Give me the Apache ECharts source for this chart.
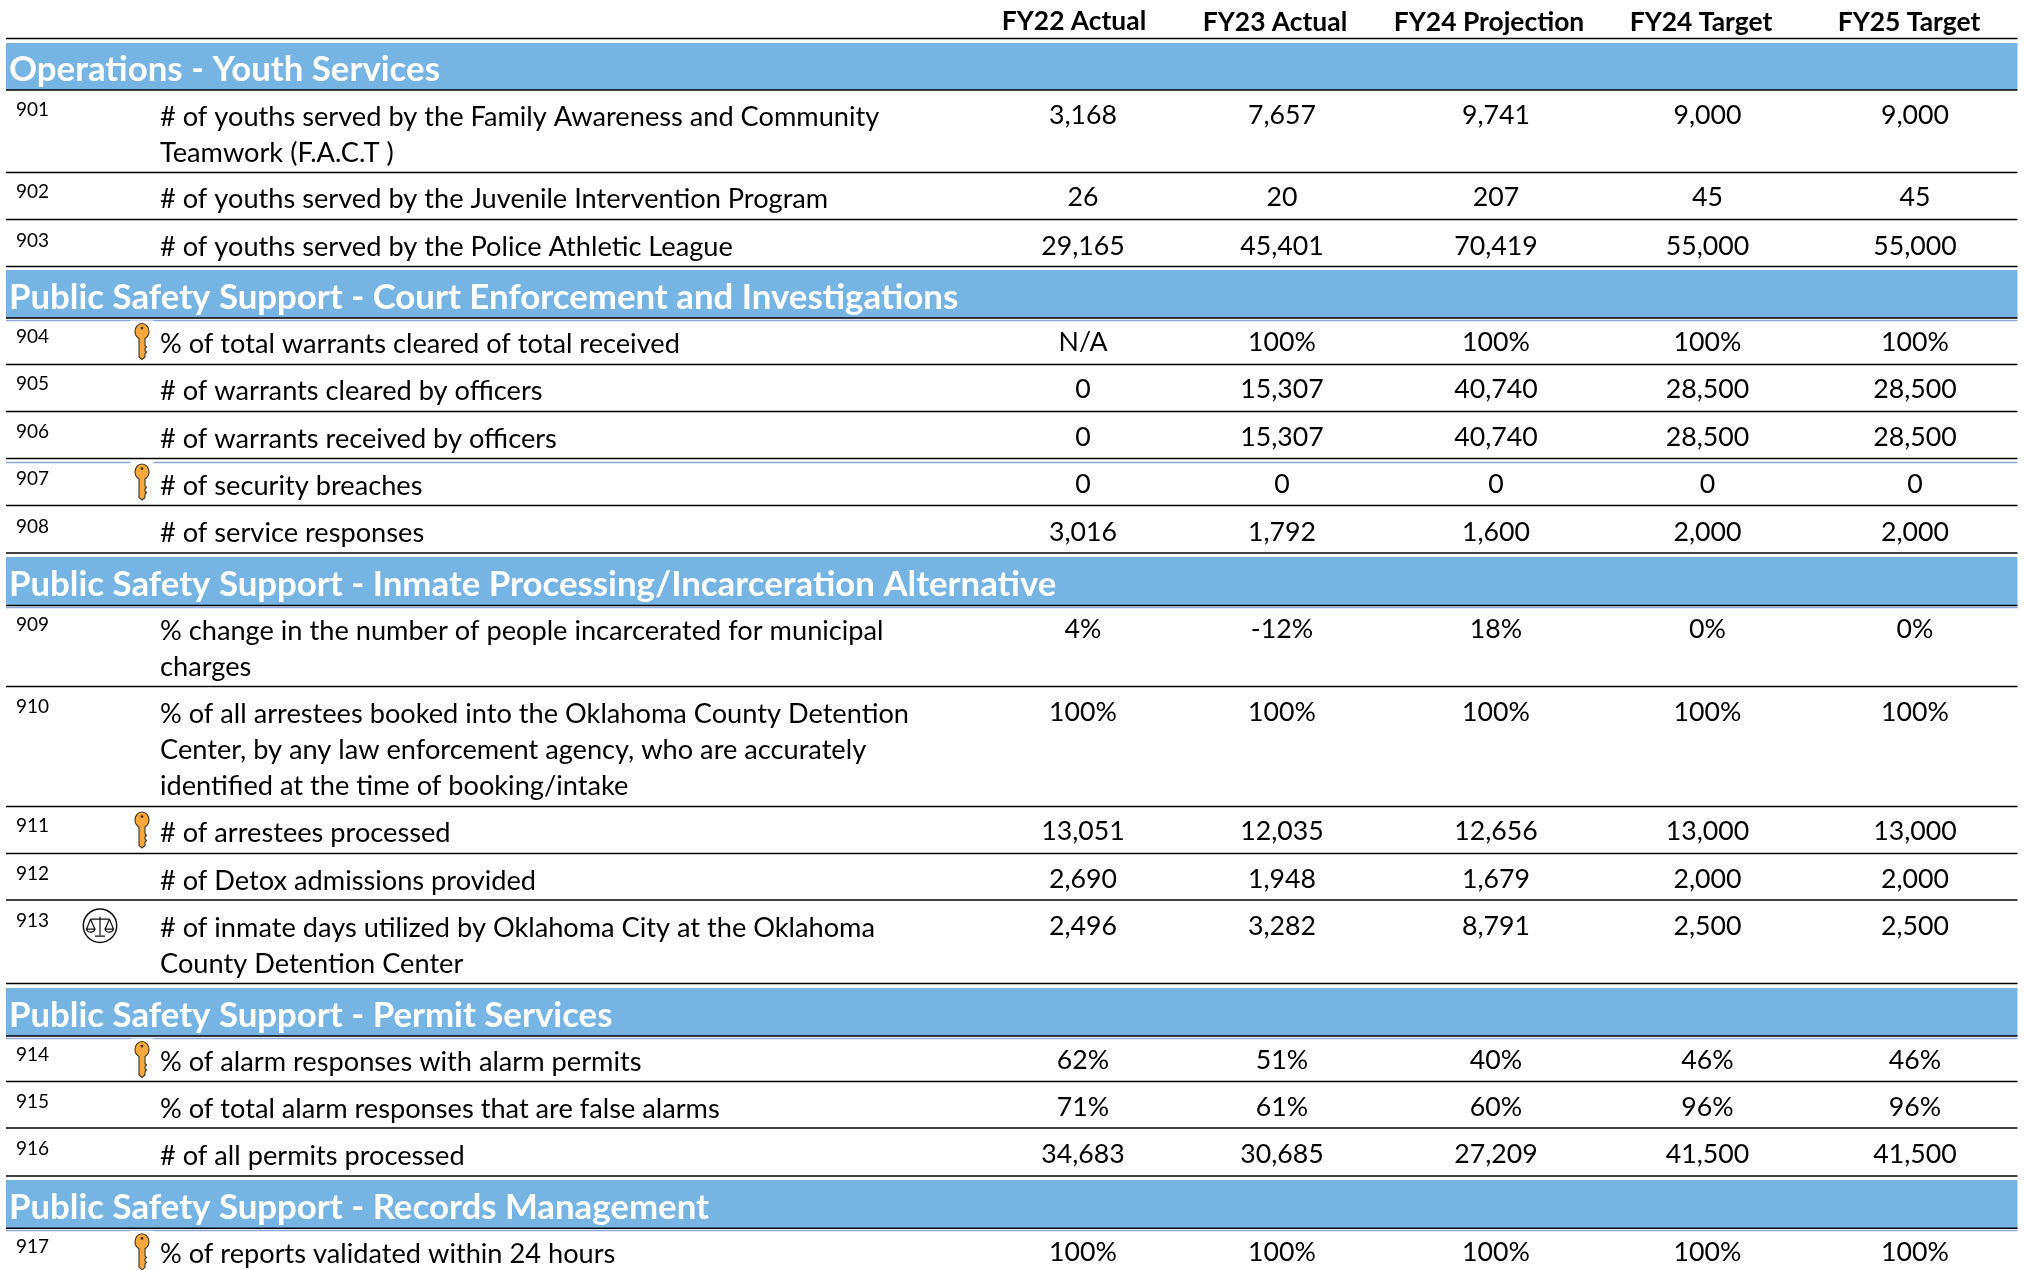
<!DOCTYPE html>
<html><head><meta charset="utf-8">
<style>html,body{margin:0;padding:0;background:#fff}#c{width:2024px;height:1270px}</style>
<script src="https://cdn.jsdelivr.net/npm/echarts@6/dist/echarts.min.js"></script>
</head><body><div id="c"></div>
<script>
// ---------- table content ----------
const columnHeaders = ['FY22 Actual','FY23 Actual','FY24 Projection','FY24 Target','FY25 Target'];
const sectionTitles = ['Operations - Youth Services','Public Safety Support - Court Enforcement and Investigations','Public Safety Support - Inmate Processing/Incarceration Alternative','Public Safety Support - Permit Services','Public Safety Support - Records Management'];
const rowIds = ['901','902','903','904','905','906','907','908','909','910','911','912','913','914','915','916','917'];
const rowLabels = [
 '# of youths served by the Family Awareness and Community\nTeamwork (F.A.C.T )',
 '# of youths served by the Juvenile Intervention Program',
 '# of youths served by the Police Athletic League',
 '% of total warrants cleared of total received',
 '# of warrants cleared by officers',
 '# of warrants received by officers',
 '# of security breaches',
 '# of service responses',
 '% change in the number of people incarcerated for municipal\ncharges',
 '% of all arrestees booked into the Oklahoma County Detention\nCenter, by any law enforcement agency, who are accurately\nidentified at the time of booking/intake',
 '# of arrestees processed',
 '# of Detox admissions provided',
 '# of inmate days utilized by Oklahoma City at the Oklahoma\nCounty Detention Center',
 '% of alarm responses with alarm permits',
 '% of total alarm responses that are false alarms',
 '# of all permits processed',
 '% of reports validated within 24 hours'];
const fy22Actual = ['3,168','26','29,165','N/A','0','0','0','3,016','4%','100%','13,051','2,690','2,496','62%','71%','34,683','100%'];
const fy23Actual = ['7,657','20','45,401','100%','15,307','15,307','0','1,792','-12%','100%','12,035','1,948','3,282','51%','61%','30,685','100%'];
const fy24Projection = ['9,741','207','70,419','100%','40,740','40,740','0','1,600','18%','100%','12,656','1,679','8,791','40%','60%','27,209','100%'];
const fy24Target = ['9,000','45','55,000','100%','28,500','28,500','0','2,000','0%','100%','13,000','2,000','2,500','46%','96%','41,500','100%'];
const fy25Target = ['9,000','45','55,000','100%','28,500','28,500','0','2,000','0%','100%','13,000','2,000','2,500','46%','96%','41,500','100%'];
const keyRows = ['904','907','911','914','917'];
const scaleRows = ['913'];

// ---------- layout, kept apart from the content ----------
const valueColumns = [fy22Actual,fy23Actual,fy24Projection,fy24Target,fy25Target];
const valueX = [1083,1282,1496,1707.5,1915];
const headerX = [1074,1275,1489,1701,1909];
const headerY = [21.5,22.5,22.5,22.5,22.5];
const bandEdges = [[43,90],[270,318],[557,605.5],[988,1036],[1180,1228.3]];
const ruleY = [38.5,90,172.5,219.5,266.5,318,364.5,411.5,458.5,505.5,553,605.5,686.5,806.5,853.5,900,983.5,1036,1081.5,1128,1176,1228.3];
const blueRuleY = [320.5,462.5,607.5,1038.5,1230.5];
const rowTop = [90,172.5,219.5,318,364.5,411.5,458.5,505.5,605.5,686.5,806.5,853.5,900,1036,1081.5,1128,1228.3];
const rowTextY = [116.8,199,247.5,343.8,391.3,439,485.8,533.5,631.4,714,833,881,928,1062,1109,1156,1254];
const LEFT = 6, RIGHT = 2017.5;
const FONT = 'Lato, Carlito, Calibri, sans-serif';
const BODY = 27.2, VALUE = 26.7, HEAD = 26.4, BAND = 34.8, IDF = 19;

const KEY = 'M8 0C12 0 15 3.5 15 8C15 11.5 13.5 13.5 11 15L11 22L12.5 23.5L11 25L11 27L12.5 28.5L11 30L11 33.5L8 36L5 33.5L5 15C2.5 13.5 1 11.5 1 8C1 3.5 4 0 8 0Z';
const KEY_HOLE = 'M8 3.2A1.4 1.4 0 1 0 8 6A1.4 1.4 0 1 0 8 3.2Z';
const SCALES = 'M0 -9L0 9.5M-5 10.5L5 10.5M-9.5 -6.5L9.5 -6.5M-9.5 -6.5L-13.5 3.5M-9.5 -6.5L-5 3.5M-13.5 3.5C-12.5 7.5 -6 7.5 -5 3.5ZM9.5 -6.5L5 3.5M9.5 -6.5L13.5 3.5M5 3.5C6 7.5 12.5 7.5 13.5 3.5Z';

function textEl(api, p, text, o) {
  const c = api.coord(p);
  return { type:'text', x:c[0], y:c[1], silent:true,
    style:{ text, x:0, y:0, fill:o.fill||'#000', fontFamily:FONT, fontSize:o.size,
      fontWeight:o.weight||'normal', textAlign:o.align||'left',
      textVerticalAlign:o.va||'middle', lineHeight:o.lh } };
}
const base = { type:'custom', coordinateSystem:'cartesian2d', silent:true, animation:false, clip:false };

const series = [
  Object.assign({}, base, { name:'bands', data:bandEdges.map(b=>[LEFT,b[0],RIGHT,b[1]]),
    renderItem:(p,api)=>{ const a=api.coord([api.value(0),api.value(1)]), b=api.coord([api.value(2),api.value(3)]);
      return {type:'rect',shape:{x:a[0],y:a[1],width:b[0]-a[0],height:b[1]-a[1]},style:{fill:'#76B5E3'}}; }}),
  Object.assign({}, base, { name:'blueRules', data:blueRuleY.map(y=>[y]),
    renderItem:(p,api)=>{ const a=api.coord([LEFT,api.value(0)]), b=api.coord([RIGHT,api.value(0)]);
      return {type:'line',shape:{x1:a[0],y1:a[1],x2:b[0],y2:b[1]},style:{stroke:'#8EA9DB',lineWidth:1.3}}; }}),
  Object.assign({}, base, { name:'rules', data:ruleY.map(y=>[y]),
    renderItem:(p,api)=>{ const a=api.coord([LEFT,api.value(0)]), b=api.coord([RIGHT,api.value(0)]);
      return {type:'line',shape:{x1:a[0],y1:a[1],x2:b[0],y2:b[1]},style:{stroke:'#000',lineWidth:1.4}}; }}),
  Object.assign({}, base, { name:'headers', data:columnHeaders.map((h,i)=>[headerX[i],headerY[i]]),
    renderItem:(p,api)=>textEl(api,[api.value(0),api.value(1)],columnHeaders[p.dataIndex],{size:HEAD,weight:'bold',align:'center'}) }),
  Object.assign({}, base, { name:'sections', data:bandEdges.map(b=>[9,(b[0]+b[1])/2+3.5]),
    renderItem:(p,api)=>textEl(api,[api.value(0),api.value(1)],sectionTitles[p.dataIndex],{size:BAND,weight:'bold',fill:'#fff'}) }),
  Object.assign({}, base, { name:'ids', data:rowTextY.map(y=>[16,y-7]),
    renderItem:(p,api)=>textEl(api,[api.value(0),api.value(1)],rowIds[p.dataIndex],{size:IDF}) }),
  Object.assign({}, base, { name:'labels', data:rowTextY.map(y=>[160,y-18]),
    renderItem:(p,api)=>textEl(api,[api.value(0),api.value(1)],rowLabels[p.dataIndex],{size:BODY,va:'top',lh:36}) }),
  Object.assign({}, base, { name:'keys', data:rowIds.map((id,i)=>[142,rowTop[i]+5.5,keyRows.includes(id)?1:0]).filter(d=>d[2]),
    renderItem:(p,api)=>{ const c=api.coord([api.value(0),api.value(1)]);
      return {type:'group',x:c[0]-8,y:c[1],children:[
        {type:'rect',shape:{x:-3.5,y:-3,width:23,height:8},style:{fill:'#fff'}},
        {type:'path',shape:{pathData:KEY,x:1,y:0,width:14,height:36,layout:'cover'},style:{fill:'#F7A83C',stroke:'#3d3426',lineWidth:1.1}},
        {type:'path',shape:{pathData:KEY_HOLE,x:6.6,y:3.2,width:2.8,height:2.8,layout:'cover'},style:{fill:'#3d3426'}}
      ]}; }}),
  Object.assign({}, base, { name:'scales', data:rowIds.map((id,i)=>[100,rowTextY[i]-2.3,scaleRows.includes(id)?1:0]).filter(d=>d[2]),
    renderItem:(p,api)=>{ const c=api.coord([api.value(0),api.value(1)]);
      return {type:'group',x:c[0],y:c[1],children:[
        {type:'circle',shape:{cx:0,cy:0,r:16.7},style:{fill:'#fff',stroke:'#111',lineWidth:1.5}},
        {type:'path',shape:{pathData:SCALES,x:-13.5,y:-9,width:27,height:19.5,layout:'cover'},style:{fill:'none',stroke:'#111',lineWidth:1.2}}
      ]}; }})
];
valueColumns.forEach((col,ci)=>{
  series.push(Object.assign({}, base, { name:columnHeaders[ci], data:col.map((v,i)=>[valueX[ci],rowTextY[i]-1.6]),
    renderItem:(p,api)=>textEl(api,[api.value(0),api.value(1)],col[p.dataIndex],{size:VALUE,align:'center'}) }));
});

const chart = echarts.init(document.getElementById('c'), null, {renderer:'canvas'});
chart.setOption({
  animation:false, backgroundColor:'#fff',
  grid:{left:0,top:0,width:2024,height:1270,containLabel:false},
  xAxis:{type:'value',min:0,max:2024,show:false},
  yAxis:{type:'value',min:0,max:1270,inverse:true,show:false},
  series
});
</script></body></html>
